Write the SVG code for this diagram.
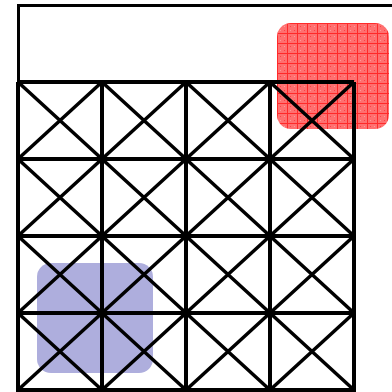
<svg xmlns="http://www.w3.org/2000/svg" width="392" height="392" viewBox="0 0 392 392">
  <defs>
    <pattern id="redgrid" width="10" height="10" patternUnits="userSpaceOnUse" x="277" y="23">
      <rect width="10" height="10" fill="#ff7070"/>
      <rect x="3" y="3" width="1" height="1" fill="#ff4040"/>
      <rect x="7" y="7" width="1" height="1" fill="#ff4040"/>
      <rect x="7" y="3" width="1" height="1" fill="#ff9a9a"/>
      <rect x="3" y="7" width="1" height="1" fill="#ff9a9a"/>
      <rect x="0" y="0" width="10" height="1" fill="#ff2a2a"/>
      <rect x="0" y="0" width="1" height="10" fill="#ff2a2a"/>
    </pattern>
    <style>
      .frame { fill: none; stroke: #000; stroke-width: 3; }
      .grid { fill: none; stroke: #000; stroke-width: 4; }
      .diag { fill: none; stroke: #000; stroke-width: 3.5; }
    </style>
  </defs>
  <rect width="392" height="392" fill="#fff"/>
  <g id="outer">
    <rect class="frame" x="18.5" y="5.5" width="400" height="420"/>
  </g>
  <g id="blue-square">
    <rect x="37" y="263" width="116" height="110" rx="14" fill="#aeaedd"/>
  </g>
  <g id="red-square">
    <rect x="277" y="23" width="112" height="106" rx="14" fill="url(#redgrid)"/>
  </g>
  <g id="grid">
    <path class="diag" d="M18 82L102 159M102 82L18 159M102 82L186 159M186 82L102 159M186 82L270 159M270 82L186 159M270 82L354 159M354 82L270 159
      M18 159L102 236M102 159L18 236M102 159L186 236M186 159L102 236M186 159L270 236M270 159L186 236M270 159L354 236M354 159L270 236
      M18 236L102 313M102 236L18 313M102 236L186 313M186 236L102 313M186 236L270 313M270 236L186 313M270 236L354 313M354 236L270 313
      M18 313L102 390M102 313L18 390M102 313L186 390M186 313L102 390M186 313L270 390M270 313L186 390M270 313L354 390M354 313L270 390"/>
    <path class="grid" d="M18 82H354M18 159H354M18 236H354M18 313H354M18 390H354M18 82V392M102 82V392M186 82V392M270 82V392M354 82V392"/>
  </g>
</svg>
